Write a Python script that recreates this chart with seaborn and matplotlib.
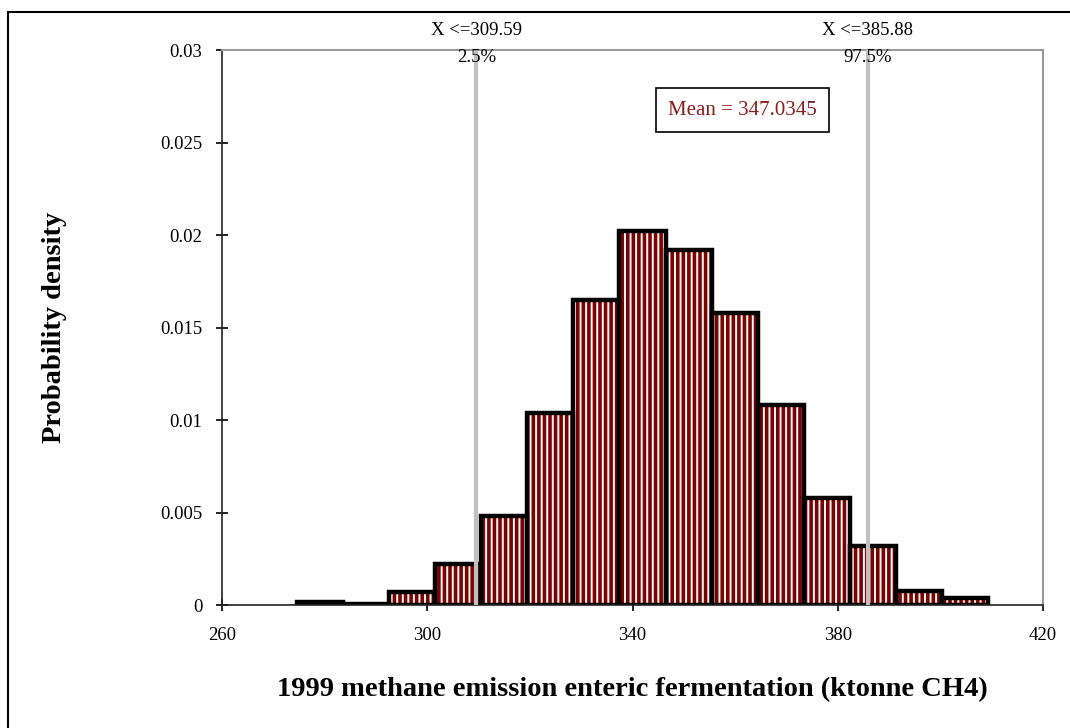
import numpy as np
import pandas as pd
import matplotlib
matplotlib.use("Agg")
import matplotlib.pyplot as plt
import seaborn as sns
from matplotlib.patches import Rectangle

# ---- data ----
bin_start = 274.6
bin_width = 8.98
n_bins = 15
density = [0.00018, 0.00008, 0.00068, 0.0022, 0.0048, 0.0104, 0.0165, 0.0202,
           0.0192, 0.0158, 0.0108, 0.0058, 0.0032, 0.00078, 0.00038]
p_low, p_high = 309.59, 385.88
p_low_label, p_high_label = "2.5%", "97.5%"
mean_val = 347.0345
x_ticks = [260, 300, 340, 380, 420]
y_ticks = [0, 0.005, 0.01, 0.015, 0.02, 0.025, 0.03]
y_tick_labels = ["0", "0.005", "0.01", "0.015", "0.02", "0.025", "0.03"]

edges = [bin_start + i * bin_width for i in range(n_bins + 1)]
centers = [(edges[i] + edges[i + 1]) / 2 for i in range(n_bins)]
df = pd.DataFrame({"x": centers, "w": density})

sns.set_theme(style="white")
plt.rcParams["font.family"] = ["Liberation Serif", "DejaVu Serif"]
plt.rcParams["hatch.linewidth"] = 1.4
plt.rcParams["text.color"] = "black"
plt.rcParams["axes.labelcolor"] = "black"

fig = plt.figure(figsize=(10.7, 7.28), dpi=100)
ax = fig.add_axes([222 / 1070, 1 - 605 / 728, (1043 - 222) / 1070, (605 - 50) / 728])

# fill layer with white vertical hatching on dark red
sns.histplot(data=df, x="x", weights="w", bins=edges, stat="count",
             color="#800000", alpha=1, ax=ax, linewidth=0)
for p in ax.patches:
    p.set_facecolor("#800000")
    p.set_edgecolor("white")
    p.set_hatch("|||")
    p.set_linewidth(0)
# outline layer
sns.histplot(data=df, x="x", weights="w", bins=edges, stat="count",
             fill=False, color="black", ax=ax, linewidth=3.2)

ax.set_xlim(260, 420)
ax.set_ylim(0, 0.03)
ax.set_xticks(x_ticks)
ax.set_xticklabels([str(t) for t in x_ticks])
ax.set_yticks(y_ticks)
ax.set_yticklabels(y_tick_labels)
ax.tick_params(axis="both", direction="inout", length=8, width=1.2, labelsize=13.5,
               colors="black", bottom=True, left=True)
ax.tick_params(axis="y", pad=10)
ax.tick_params(axis="x", pad=12)

for s in ["left", "bottom"]:
    ax.spines[s].set_color("#222222")
    ax.spines[s].set_linewidth(1.2)
for s in ["top", "right"]:
    ax.spines[s].set_color("#999999")
    ax.spines[s].set_linewidth(1.5)

# percentile lines
for xv, val_lab, pct_lab in [(p_low, f"X <={p_low}", p_low_label),
                             (p_high, f"X <={p_high}", p_high_label)]:
    ax.axvline(xv, color="#c0c0c0", linewidth=3, zorder=5)
    ax.text(xv, 1.036, val_lab, transform=ax.get_xaxis_transform(),
            ha="center", va="center", fontsize=13.5, color="black")
    ax.text(xv, 0.987, pct_lab, transform=ax.get_xaxis_transform(),
            ha="center", va="center", fontsize=13.5, color="black", zorder=6)

ax.text(0.634, 0.891, f"Mean = {mean_val}", transform=ax.transAxes,
        ha="center", va="center", fontsize=15, color="#8b1a1a",
        bbox=dict(boxstyle="square,pad=0.6", facecolor="white",
                  edgecolor="black", linewidth=1.2), zorder=7)

ax.set_xlabel("1999 methane emission enteric fermentation (ktonne CH4)",
              fontsize=20.5, fontweight="bold", labelpad=24, color="black")
ax.set_ylabel("Probability density", fontsize=20.5, fontweight="bold",
              labelpad=67, color="black")

# outer frame
fig.patches.append(Rectangle((8 / 1070, -0.1), 1.2, 1 - 12 / 728 + 0.1,
                             transform=fig.transFigure, fill=False,
                             edgecolor="black", linewidth=1.5))

fig.savefig("out.png", dpi=100)
